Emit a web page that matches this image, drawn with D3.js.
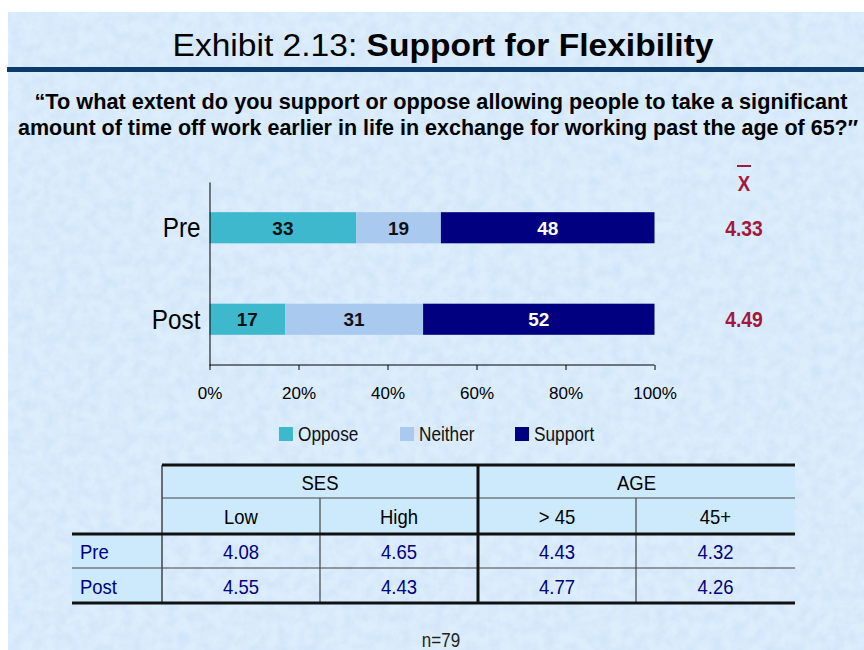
<!DOCTYPE html>
<html>
<head>
<meta charset="utf-8">
<script src="https://cdn.jsdelivr.net/npm/d3@7"></script>
<style>
  html, body { margin: 0; padding: 0; background: #fff; }
  svg { display: block; }
</style>
</head>
<body>
<div id="container"></div>
<script>
let w = 864;
let h = 650;

// chart data
let categories = ["Pre", "Post"];
let seriesNames = ["Oppose", "Neither", "Support"];
let oppose = [33, 17];
let neither = [19, 31];
let support = [48, 52];
let means = ["4.33", "4.49"];
let xTicks = [0, 20, 40, 60, 80, 100];

// table data
let groups = ["SES", "AGE"];
let subgroups = ["Low", "High", "> 45", "45+"];
let tableRows = ["Pre", "Post"];
let tableValues = [
  ["4.08", "4.65", "4.43", "4.32"],
  ["4.55", "4.43", "4.77", "4.26"]
];

let colors = ["#3db8cd", "#a9c9ef", "#000080"];
let narrow = "'Liberation Sans Narrow', 'Arial Narrow', 'Liberation Sans', Arial, sans-serif";
let wide = "'Liberation Sans', Arial, sans-serif";

// squeeze a text horizontally (no narrow font installed)
function squeeze(sel, k) {
  sel.each(function() {
    let bw = this.getComputedTextLength();
    d3.select(this).attr("textLength", bw * k).attr("lengthAdjust", "spacingAndGlyphs");
  });
}

let viz = d3.select("#container")
  .append("svg")
    .attr("width", w)
    .attr("height", h);

// textured light blue paper
let defs = viz.append("defs");
let filt = defs.append("filter").attr("id", "paper")
  .attr("x", 0).attr("y", 0).attr("width", 1).attr("height", 1);
filt.append("feTurbulence")
  .attr("type", "fractalNoise")
  .attr("baseFrequency", 0.09)
  .attr("numOctaves", 3)
  .attr("seed", 7)
  .attr("result", "noise");
filt.append("feColorMatrix")
  .attr("in", "noise")
  .attr("type", "matrix")
  .attr("values", "0 0 0 0 0.55  0 0 0 0 0.72  0 0 0 0 0.92  0 0 0 -1.6 1.05");

viz.append("rect")
  .attr("x", 8).attr("y", 12)
  .attr("width", w - 8).attr("height", h - 12)
  .attr("fill", "#dcedfc");
viz.append("rect")
  .attr("x", 8).attr("y", 12)
  .attr("width", w - 8).attr("height", h - 12)
  .attr("fill", "#fff")
  .attr("filter", "url(#paper)")
  .attr("opacity", 0.55);

// title
let title = viz.append("text")
  .attr("x", 443).attr("y", 56)
  .attr("text-anchor", "middle")
  .style("font-family", wide)
  .style("font-size", "32px")
  .attr("fill", "#000");
title.append("tspan").text("Exhibit 2.13: ");
title.append("tspan").attr("font-weight", "bold").text("Support for Flexibility");
title.attr("textLength", 541).attr("lengthAdjust", "spacingAndGlyphs");

viz.append("rect")
  .attr("x", 7).attr("y", 67)
  .attr("width", w - 7).attr("height", 5)
  .attr("fill", "#0c3a6a");

// question, drawn small and stretched upward to mimic a condensed face
let sub = [
  "\u201cTo what extent do you support or oppose allowing people to take a significant",
  "amount of time off work earlier in life in exchange for working past the age of 65?\u2033"
];
let subWidths = [813, 840];
viz.selectAll(".sub").data(sub).enter()
  .append("g")
  .attr("class", "sub")
  .attr("transform", (d, i) => "translate(" + (i === 0 ? 441 : 438) + "," + (109 + i * 26) + ") scale(1,1.2)")
  .append("text")
  .attr("text-anchor", "middle")
  .attr("textLength", (d, i) => subWidths[i])
  .attr("lengthAdjust", "spacingAndGlyphs")
  .style("font-family", narrow)
  .style("font-weight", "bold")
  .style("font-size", "19px")
  .text(d => d);

// bar chart
let xScale = d3.scaleLinear().domain([0, 100]).range([209.5, 654.5]);
let yScale = d3.scaleBand().domain(categories).range([182, 365])
  .paddingInner(0.66).paddingOuter(0.33);

let stackInput = categories.map((c, i) => ({
  cat: c, Oppose: oppose[i], Neither: neither[i], Support: support[i]
}));
let stacked = d3.stack().keys(seriesNames)(stackInput);

let chart = viz.append("g");
let layers = chart.selectAll(".layer").data(stacked).enter()
  .append("g")
  .attr("class", "layer")
  .attr("fill", (d, i) => colors[i]);

layers.selectAll("rect").data(d => d).enter()
  .append("rect")
  .attr("x", d => xScale(d[0]))
  .attr("y", d => yScale(d.data.cat))
  .attr("width", d => xScale(d[1]) - xScale(d[0]))
  .attr("height", yScale.bandwidth());

layers.selectAll("text").data((d, i) => d.map(v => ({v: v, key: d.key, idx: i}))).enter()
  .append("text")
  .attr("x", d => (xScale(d.v[0]) + xScale(d.v[1])) / 2)
  .attr("y", d => yScale(d.v.data.cat) + yScale.bandwidth() / 2 + 7)
  .attr("text-anchor", "middle")
  .attr("fill", d => d.idx === 2 ? "#fff" : "#111")
  .style("font-family", wide)
  .style("font-weight", "bold")
  .style("font-size", "19px")
  .text(d => d.v.data[d.key]);

let xAxis = d3.axisBottom(xScale).tickValues(xTicks)
  .tickSize(5).tickPadding(17).tickFormat(d => d + "%");
let xAxisGroup = chart.append("g")
  .attr("transform", "translate(0," + 365 + ")")
  .call(xAxis);
xAxisGroup.select(".domain").attr("stroke", "#000").attr("d", "M209.5,0H654.5");
xAxisGroup.selectAll(".tick line").attr("stroke", "#000");
xAxisGroup.selectAll(".tick text")
  .attr("fill", "#000")
  .style("font-family", wide)
  .style("font-size", "17px");

let yAxis = d3.axisLeft(yScale).tickSize(0).tickPadding(9);
let yAxisGroup = chart.append("g")
  .attr("transform", "translate(" + 209.5 + ",0)")
  .call(yAxis);
yAxisGroup.select(".domain").attr("stroke", "#000");
yAxisGroup.selectAll(".tick text")
  .attr("fill", "#000")
  .attr("dy", "0.36em")
  .style("font-family", narrow)
  .style("font-size", "27px")
  .call(squeeze, 0.9);

// means column
let red = "#a3173a";
viz.append("text")
  .attr("x", 744).attr("y", 191)
  .attr("text-anchor", "middle")
  .attr("fill", red)
  .style("font-family", narrow)
  .style("font-weight", "bold")
  .style("font-size", "22px")
  .text("X")
  .call(squeeze, 0.85);
viz.append("rect")
  .attr("x", 737).attr("y", 165)
  .attr("width", 14).attr("height", 2)
  .attr("fill", red);
viz.selectAll(".mean").data(means).enter()
  .append("text")
  .attr("class", "mean")
  .attr("x", 744)
  .attr("y", (d, i) => yScale(categories[i]) + yScale.bandwidth() / 2 + 8)
  .attr("text-anchor", "middle")
  .attr("fill", red)
  .style("font-family", narrow)
  .style("font-weight", "bold")
  .style("font-size", "22px")
  .text(d => d)
  .call(squeeze, 0.88);

// legend
let legendX = [279, 400, 515];
let legend = viz.selectAll(".legend").data(seriesNames).enter()
  .append("g")
  .attr("class", "legend")
  .attr("transform", (d, i) => "translate(" + legendX[i] + ",427)");
legend.append("rect")
  .attr("width", 14).attr("height", 14)
  .attr("fill", (d, i) => colors[i]);
legend.append("text")
  .attr("x", 19).attr("y", 14)
  .style("font-family", narrow)
  .style("font-size", "21px")
  .attr("fill", "#111")
  .text(d => d)
  .call(squeeze, 0.82);

// summary table
let colX = [162, 320, 478, 636, 795];
let rowY = [465, 498, 534, 568, 603];
let labelX0 = 72;
let table = viz.append("g");
let cellFill = "#cdeafc";

table.append("rect")
  .attr("x", colX[0]).attr("y", rowY[0])
  .attr("width", colX[4] - colX[0]).attr("height", rowY[2] - rowY[0])
  .attr("fill", cellFill);
table.append("rect")
  .attr("x", labelX0).attr("y", rowY[2])
  .attr("width", colX[0] - labelX0).attr("height", rowY[4] - rowY[2])
  .attr("fill", cellFill);

// thin lines
let thin = "#444";
table.append("line").attr("x1", colX[0]).attr("x2", colX[4])
  .attr("y1", rowY[1]).attr("y2", rowY[1]).attr("stroke", thin).attr("stroke-width", 1);
table.append("line").attr("x1", labelX0).attr("x2", colX[4])
  .attr("y1", rowY[3]).attr("y2", rowY[3]).attr("stroke", thin).attr("stroke-width", 1);
table.append("line").attr("x1", colX[0]).attr("x2", colX[0])
  .attr("y1", rowY[0]).attr("y2", rowY[4]).attr("stroke", thin).attr("stroke-width", 1.5);
[colX[1], colX[3]].forEach(x => {
  table.append("line").attr("x1", x).attr("x2", x)
    .attr("y1", rowY[1]).attr("y2", rowY[4]).attr("stroke", thin).attr("stroke-width", 1.2);
});
// thick lines
table.append("line").attr("x1", colX[0]).attr("x2", colX[4])
  .attr("y1", rowY[0]).attr("y2", rowY[0]).attr("stroke", "#111").attr("stroke-width", 3);
table.append("line").attr("x1", labelX0).attr("x2", colX[4])
  .attr("y1", rowY[2]).attr("y2", rowY[2]).attr("stroke", "#111").attr("stroke-width", 3);
table.append("line").attr("x1", labelX0).attr("x2", colX[4])
  .attr("y1", rowY[4]).attr("y2", rowY[4]).attr("stroke", "#111").attr("stroke-width", 3);
table.append("line").attr("x1", colX[2]).attr("x2", colX[2])
  .attr("y1", rowY[0]).attr("y2", rowY[4]).attr("stroke", "#111").attr("stroke-width", 3);

let tStyle = sel => sel
  .style("font-family", narrow)
  .style("font-size", "21px")
  .attr("text-anchor", "middle");

groups.forEach((g, i) => {
  table.append("text")
    .attr("x", (colX[i * 2] + colX[i * 2 + 2]) / 2)
    .attr("y", (rowY[0] + rowY[1]) / 2 + 8)
    .attr("fill", "#000")
    .call(tStyle)
    .text(g)
    .call(squeeze, 0.88);
});
subgroups.forEach((s, i) => {
  table.append("text")
    .attr("x", (colX[i] + colX[i + 1]) / 2)
    .attr("y", (rowY[1] + rowY[2]) / 2 + 8)
    .attr("fill", "#000")
    .call(tStyle)
    .text(s)
    .call(squeeze, 0.88);
});
tableRows.forEach((r, j) => {
  let cy = (rowY[j + 2] + rowY[j + 3]) / 2 + 8;
  table.append("text")
    .attr("x", 80).attr("y", cy)
    .attr("fill", "#000080")
    .style("font-family", narrow)
    .style("font-size", "21px")
    .text(r)
    .call(squeeze, 0.88);
  tableValues[j].forEach((v, i) => {
    table.append("text")
      .attr("x", (colX[i] + colX[i + 1]) / 2)
      .attr("y", cy)
      .attr("fill", "#000080")
      .call(tStyle)
      .text(v)
      .call(squeeze, 0.88);
  });
});

viz.append("text")
  .attr("x", 441).attr("y", 647)
  .attr("text-anchor", "middle")
  .style("font-family", narrow)
  .style("font-size", "20px")
  .attr("fill", "#222")
  .text("n=79")
  .call(squeeze, 0.85);
</script>
</body>
</html>
